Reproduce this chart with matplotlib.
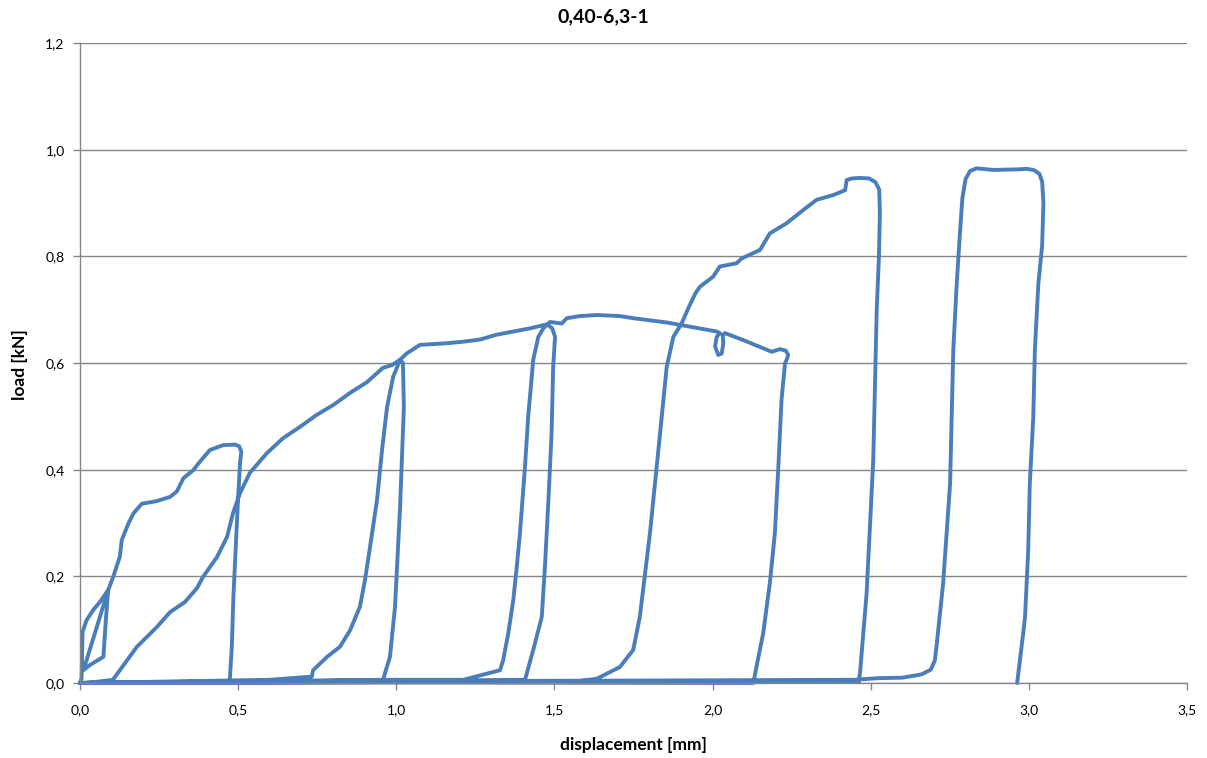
import numpy as np
import matplotlib
matplotlib.use("Agg")
import matplotlib.pyplot as plt
from matplotlib.ticker import FuncFormatter

# ---- data (displacement [mm], load [kN]) ----
# cycle 1: initial load, small unload, reload, load to ~0.45 kN and unload
cyc1_disp = [0.0, 0.005, 0.008, 0.021, 0.042, 0.063, 0.089, 0.082, 0.074, 0.032, 0.011,
             0.089, 0.105, 0.126, 0.132, 0.153, 0.169, 0.195, 0.242, 0.285, 0.306, 0.327,
             0.358, 0.379, 0.411, 0.453, 0.490, 0.503, 0.510, 0.506, 0.500, 0.495, 0.485,
             0.480, 0.474, 0.472]
cyc1_load = [0.0, 0.009, 0.096, 0.118, 0.137, 0.152, 0.174, 0.120, 0.049, 0.034, 0.024,
             0.174, 0.199, 0.237, 0.268, 0.299, 0.318, 0.336, 0.341, 0.349, 0.359, 0.384,
             0.399, 0.415, 0.437, 0.446, 0.447, 0.444, 0.434, 0.413, 0.349, 0.287, 0.162,
             0.068, 0.009, 0.002]
ret1_disp = [0.30, 0.0, 0.05, 0.104]
ret1_load = [0.001, 0.0, 0.002, 0.006]

# cycle 2
cyc2_disp = [0.180, 0.243, 0.285, 0.332, 0.370, 0.389, 0.433, 0.465, 0.484, 0.506, 0.537,
             0.591, 0.642, 0.695, 0.749, 0.800, 0.854, 0.907, 0.958, 0.986, 1.012, 1.021,
             1.024, 1.012, 0.996, 0.980, 0.958]
cyc2_load = [0.068, 0.105, 0.133, 0.152, 0.178, 0.199, 0.236, 0.274, 0.319, 0.356, 0.394,
             0.431, 0.459, 0.480, 0.503, 0.521, 0.544, 0.564, 0.591, 0.596, 0.606, 0.600,
             0.518, 0.330, 0.143, 0.049, 0.006]
ret2_disp = [0.6, 0.0, 0.3, 0.6, 0.733]
ret2_load = [0.002, 0.0, 0.003, 0.006, 0.012]

# cycle 3
cyc3_disp = [0.737, 0.781, 0.822, 0.854, 0.885, 0.901, 0.917, 0.939, 0.955, 0.971, 0.990,
             1.012, 1.033, 1.075, 1.159, 1.212, 1.265, 1.317, 1.370, 1.423, 1.465, 1.478,
             1.493, 1.502, 1.496, 1.491, 1.481, 1.470, 1.460, 1.433, 1.407]
cyc3_load = [0.024, 0.049, 0.068, 0.099, 0.143, 0.193, 0.255, 0.343, 0.437, 0.518, 0.574,
             0.606, 0.618, 0.634, 0.637, 0.640, 0.644, 0.653, 0.659, 0.665, 0.671, 0.672,
             0.665, 0.649, 0.593, 0.468, 0.343, 0.218, 0.124, 0.062, 0.006]
ret3_disp = [0.7, 0.0, 0.6, 1.0, 1.212]
ret3_load = [0.002, 0.0, 0.004, 0.006, 0.006]

# cycle 4 (with small loop near 2.02 mm)
cyc4_disp = [1.328, 1.338, 1.354, 1.370, 1.381, 1.391, 1.407, 1.417, 1.428, 1.433, 1.449,
             1.465, 1.475, 1.486, 1.523, 1.539, 1.581, 1.634, 1.707, 1.749, 1.855, 1.902,
             1.960, 2.013, 2.023, 2.013, 2.008, 2.018, 2.029, 2.034, 2.032, 2.039, 2.097,
             2.187, 2.213, 2.232, 2.239, 2.234, 2.229, 2.218, 2.208, 2.197, 2.181, 2.160,
             2.139, 2.129]
cyc4_load = [0.024, 0.043, 0.093, 0.156, 0.218, 0.281, 0.406, 0.499, 0.574, 0.606, 0.649,
             0.665, 0.671, 0.677, 0.674, 0.684, 0.688, 0.690, 0.688, 0.684, 0.676, 0.671,
             0.665, 0.659, 0.656, 0.649, 0.631, 0.615, 0.618, 0.637, 0.652, 0.656, 0.643,
             0.621, 0.626, 0.623, 0.615, 0.606, 0.599, 0.531, 0.406, 0.281, 0.187, 0.093,
             0.031, 0.0]
ret4_disp = [1.0, 0.0, 1.0, 1.5, 1.581]
ret4_load = [0.002, 0.0, 0.004, 0.004, 0.004]

# cycle 5
cyc5_disp = [1.634, 1.707, 1.749, 1.770, 1.802, 1.834, 1.855, 1.876, 1.902, 1.925, 1.945,
             1.960, 2.002, 2.023, 2.076, 2.092, 2.150, 2.181, 2.234, 2.287, 2.329, 2.382,
             2.419, 2.424, 2.440, 2.466, 2.495, 2.515, 2.527, 2.529, 2.526, 2.519, 2.508,
             2.487, 2.466, 2.462]
cyc5_load = [0.008, 0.030, 0.062, 0.124, 0.281, 0.468, 0.593, 0.649, 0.674, 0.705, 0.730,
             0.743, 0.762, 0.781, 0.787, 0.796, 0.812, 0.843, 0.862, 0.887, 0.906, 0.915,
             0.924, 0.943, 0.946, 0.947, 0.946, 0.939, 0.925, 0.880, 0.800, 0.700, 0.418,
             0.168, 0.018, 0.002]
ret5_disp = [1.2, 0.0, 1.0, 2.0, 2.45, 2.52]
ret5_load = [0.001, 0.0, 0.003, 0.005, 0.006, 0.009]

# cycle 6 (final)
cyc6_disp = [2.600, 2.660, 2.690, 2.703, 2.709, 2.729, 2.751, 2.756, 2.761, 2.772, 2.782,
             2.790, 2.800, 2.814, 2.835, 2.888, 2.961, 2.993, 3.015, 3.033, 3.042, 3.046,
             3.042, 3.030, 3.019, 3.014, 3.003, 2.998, 2.988, 2.982, 2.966, 2.963]
cyc6_load = [0.010, 0.016, 0.025, 0.043, 0.074, 0.187, 0.374, 0.499, 0.624, 0.749, 0.843,
             0.910, 0.945, 0.960, 0.965, 0.962, 0.963, 0.964, 0.962, 0.955, 0.940, 0.900,
             0.820, 0.749, 0.624, 0.499, 0.374, 0.249, 0.124, 0.093, 0.015, 0.0]

x_ticks = [0.0, 0.5, 1.0, 1.5, 2.0, 2.5, 3.0, 3.5]
y_ticks = [0.0, 0.2, 0.4, 0.6, 0.8, 1.0, 1.2]
title_text = "0,40-6,3-1"
x_label = "displacement [mm]"
y_label = "load [kN]"

disp = np.concatenate([cyc1_disp, ret1_disp, cyc2_disp, ret2_disp, cyc3_disp, ret3_disp,
                       cyc4_disp, ret4_disp, cyc5_disp, ret5_disp, cyc6_disp])
load = np.concatenate([cyc1_load, ret1_load, cyc2_load, ret2_load, cyc3_load, ret3_load,
                       cyc4_load, ret4_load, cyc5_load, ret5_load, cyc6_load])

plt.rcParams['font.family'] = ['Lato', 'DejaVu Sans']

W, H = 1207, 758
fig = plt.figure(figsize=(W / 100, H / 100), dpi=100)
ax = fig.add_axes([80 / W, 1 - 683 / H, (1187 - 80) / W, (683 - 43) / H])

grid_c = '#868686'
ax.set_xlim(0, 3.5)
ax.set_ylim(0, 1.2)
ax.set_xticks(x_ticks)
ax.set_yticks(y_ticks)
ax.yaxis.grid(True, color=grid_c, linewidth=1.0)
ax.set_axisbelow(True)
for s in ['top', 'right']:
    ax.spines[s].set_visible(False)
for s in ['left', 'bottom']:
    ax.spines[s].set_color(grid_c)
    ax.spines[s].set_linewidth(1.0)
fmt = FuncFormatter(lambda v, p: f"{v:.1f}".replace('.', ','))
ax.xaxis.set_major_formatter(fmt)
ax.yaxis.set_major_formatter(fmt)
ax.tick_params(axis='both', direction='out', length=5, color=grid_c, labelsize=10,
               labelcolor='black', width=1)
ax.tick_params(axis='x', pad=10)
ax.tick_params(axis='y', pad=6)

ax.plot(disp, load, color='#4A7EBB', linewidth=2.8, solid_joinstyle='round',
        solid_capstyle='round', clip_on=False)

fig.text(0.5, 1 - 17 / H, title_text, ha='center', va='center', fontsize=14,
         fontweight='bold')
fig.text(633 / W, 1 - 745 / H, x_label, ha='center', va='center', fontsize=12.5,
         fontweight='bold')
fig.text(20 / W, 1 - 365 / H, y_label, ha='center', va='center', fontsize=12.5,
         fontweight='bold', rotation=90)

fig.savefig('out.png', dpi=100, facecolor='white')
